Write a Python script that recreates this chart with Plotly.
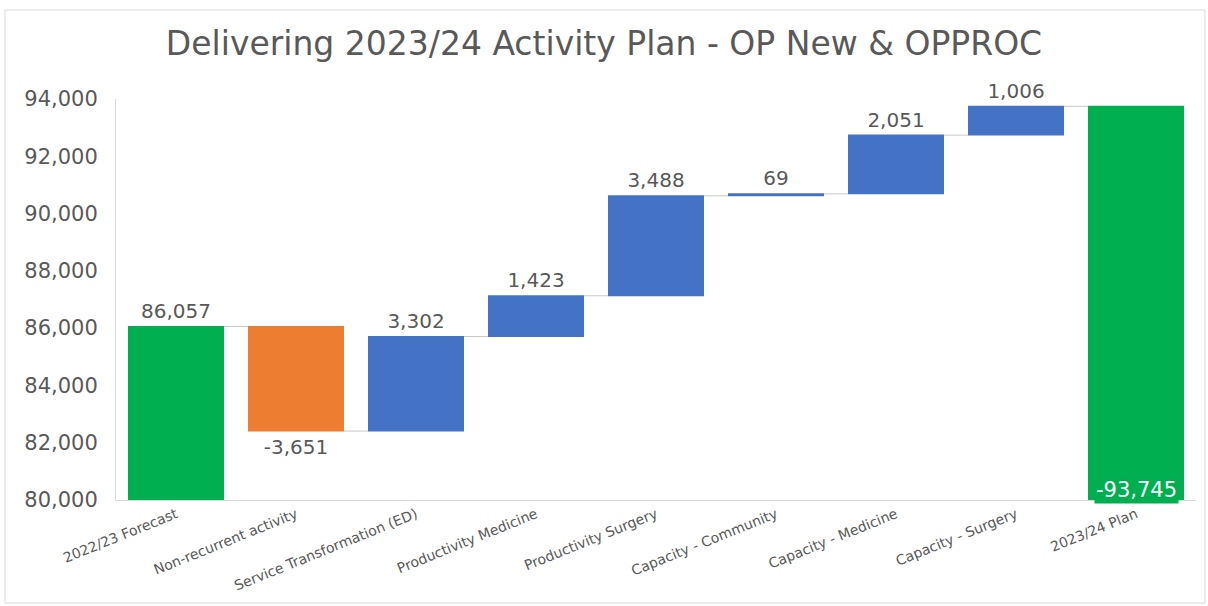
import plotly.graph_objects as go

# Waterfall steps from the 2022/23 forecast to the 2023/24 plan
categories = [
    "2022/23 Forecast",
    "Non-recurrent activity",
    "Service Transformation (ED)",
    "Productivity Medicine",
    "Productivity Surgery",
    "Capacity - Community",
    "Capacity - Medicine",
    "Capacity - Surgery",
    "2023/24 Plan",
]
changes = [86057, -3651, 3302, 1423, 3488, 69, 2051, 1006, 0]
measures = ["absolute"] + ["relative"] * 7 + ["total"]
plan_total = sum(changes)

y_ticks = list(range(80000, 94001, 2000))
y_range = [80000, 94000]

GREY = "#595959"
FONT = "DejaVu Sans"

labels = [f"{v:,}" for v in changes[:-1]] + [""]
positions = ["outside"] * 8 + ["none"]

fig = go.Figure(
    go.Waterfall(
        x=categories,
        y=changes,
        measure=measures,
        text=labels,
        textposition=positions,
        textfont=dict(family=FONT, size=20, color=GREY),
        increasing=dict(marker=dict(color="#4472C4")),
        decreasing=dict(marker=dict(color="#ED7D31")),
        totals=dict(marker=dict(color="#00B050")),
        connector=dict(mode="between", line=dict(color="#C8C8C8", width=1)),
        cliponaxis=False,
        hoverinfo="x+y",
    )
)

# Label for the plan total, sitting at the foot of its bar
fig.add_annotation(
    x=categories[-1],
    y=y_range[0],
    text=f"-{plan_total:,}",
    showarrow=False,
    yanchor="bottom",
    yshift=-4,
    font=dict(family=FONT, size=21, color="white"),
    bgcolor="#00B050",
    borderpad=1,
)

# Light frame around the whole chart
fig.add_shape(
    type="rect",
    xref="paper",
    yref="paper",
    x0=-0.1028,
    x1=1.0083,
    y0=-0.2569,
    y1=1.2219,
    line=dict(color="#D9D9D9", width=1),
    fillcolor="rgba(0,0,0,0)",
    layer="below",
)

fig.update_layout(
    width=1208,
    height=606,
    margin=dict(l=116, r=12, t=99, b=106),
    paper_bgcolor="white",
    plot_bgcolor="white",
    showlegend=False,
    bargap=0.18,
    title=dict(
        text="Delivering 2023/24 Activity Plan - OP New & OPPROC",
        x=0.5,
        xanchor="center",
        y=1 - 43 / 606,
        yanchor="middle",
        font=dict(family=FONT, size=33, color=GREY),
    ),
    font=dict(family=FONT, color=GREY),
)

fig.update_yaxes(
    range=y_range,
    tickvals=y_ticks,
    tickformat=",",
    showgrid=False,
    zeroline=False,
    showline=True,
    linecolor="#D9D9D9",
    linewidth=1,
    ticks="",
    ticklabelstandoff=13,
    tickfont=dict(family=FONT, size=21, color=GREY),
)

fig.update_xaxes(
    showgrid=False,
    showline=True,
    linecolor="#D9D9D9",
    linewidth=1,
    ticks="",
    tickangle=-22,
    tickfont=dict(family=FONT, size=14, color=GREY),
)

fig.write_html("out.html")
